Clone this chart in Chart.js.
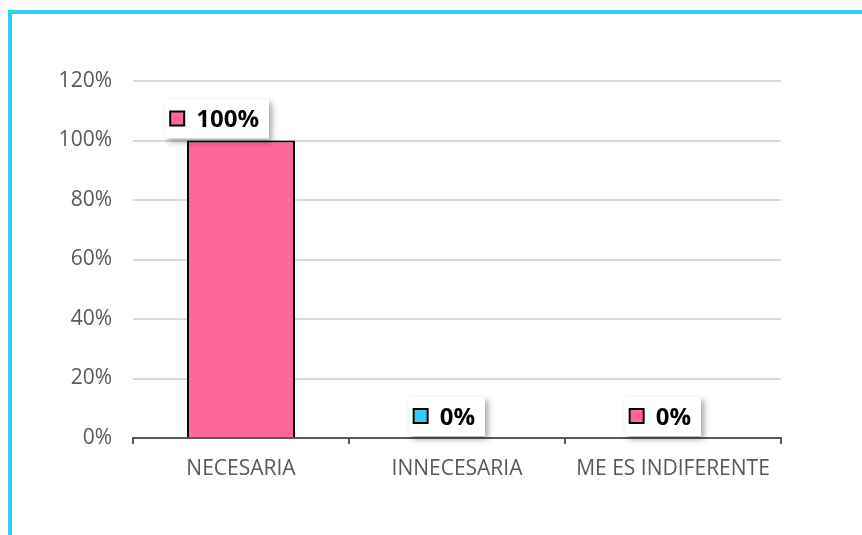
<!DOCTYPE html>
<html>
<head>
<meta charset="utf-8">
<script src="https://cdn.jsdelivr.net/npm/chart.js@4.4.0/dist/chart.umd.min.js"></script>
<style>
  html, body { margin: 0; padding: 0; background: #fff; }
  #wrap { position: relative; width: 862px; height: 535px; }
  #frame { position: absolute; left: 8px; top: 10px; right: 0; bottom: 0;
           border-left: 4px solid #33CCFF; border-top: 4px solid #33CCFF; }
  canvas { position: absolute; left: 0; top: 0; }
</style>
</head>
<body>
<div id="wrap">
  <div id="frame"></div>
  <canvas id="grafico" width="862" height="535"></canvas>
</div>
<script>
var categorias = ['NECESARIA', 'INNECESARIA', 'ME ES INDIFERENTE']
var valores = [100, 0, 0]
var coloresMarca = ['#FF6699', '#33CCFF', '#FF6699']
var ticksY = [0, 20, 40, 60, 80, 100, 120]

var fuente = "'Open Sans', sans-serif"

// sombra suave alrededor de la barra
var sombraBarras = {
  id: 'sombraBarras',
  beforeDatasetsDraw: function(chart) {
    var c = chart.ctx
    c.save()
    c.shadowColor = 'rgba(0,0,0,0.25)'
    c.shadowBlur = 16
  },
  afterDatasetsDraw: function(chart) {
    chart.ctx.restore()
  }
}

// etiquetas con recuadro blanco y marcador de color
var etiquetas = {
  id: 'etiquetas',
  afterDatasetsDraw: function(chart) {
    var c = chart.ctx
    var meta = chart.getDatasetMeta(0)
    meta.data.forEach(function(bar, i) {
      var texto = valores[i] + '%'
      c.save()
      c.font = 'bold 24px ' + fuente
      var w = c.measureText(texto).width
      var derecha = bar.x + 18
      var cy = bar.y - 21
      var izqTexto = derecha - w
      var mx = izqTexto - 12 - 14
      // recuadro
      c.save()
      c.shadowColor = 'rgba(0,0,0,0.35)'
      c.shadowBlur = 6
      c.shadowOffsetX = 3
      c.shadowOffsetY = 3
      c.fillStyle = '#fff'
      c.fillRect(mx - 5, cy - 20, derecha + 10 - (mx - 5), 39)
      c.restore()
      // marcador
      c.fillStyle = coloresMarca[i]
      c.strokeStyle = '#000'
      c.lineWidth = 2
      c.fillRect(mx, cy - 8, 14, 14)
      c.strokeRect(mx, cy - 8, 14, 14)
      // texto
      c.fillStyle = '#000'
      c.textAlign = 'right'
      c.textBaseline = 'middle'
      c.fillText(texto, derecha, cy + 1)
      c.restore()
    })
  }
}

var ctx = document.getElementById('grafico')

new Chart(ctx, {
  type: 'bar',
  data: {
    labels: categorias,
    datasets: [{
      data: valores,
      backgroundColor: '#FF6699',
      borderColor: '#000',
      borderWidth: 2,
      borderSkipped: 'bottom',
      barPercentage: 0.5,
      categoryPercentage: 1
    }]
  },
  options: {
    responsive: false,
    animation: false,
    layout: { padding: { left: 20, right: 81, top: 81, bottom: 37 } },
    plugins: {
      legend: { display: false },
      tooltip: { enabled: false }
    },
    scales: {
      y: {
        min: 0,
        max: 120,
        afterFit: function(s) { s.width = 113 },
        afterBuildTicks: function(s) { s.ticks = ticksY.map(function(v) { return { value: v } }) },
        ticks: {
          padding: 21,
          color: '#595959',
          font: { family: fuente, size: 21 },
          callback: function(v) { return v + '%' }
        },
        grid: { color: '#D9D9D9', lineWidth: 2, drawTicks: false },
        border: { display: false }
      },
      x: {
        afterFit: function(s) { s.height = 60 },
        ticks: {
          padding: 12,
          color: '#595959',
          font: { family: fuente, size: 21 }
        },
        grid: { offset: true, drawOnChartArea: false, tickLength: 6, color: '#595959', lineWidth: 2 },
        border: { color: '#595959', width: 2 }
      }
    }
  },
  plugins: [sombraBarras, etiquetas]
})
</script>
</body>
</html>
